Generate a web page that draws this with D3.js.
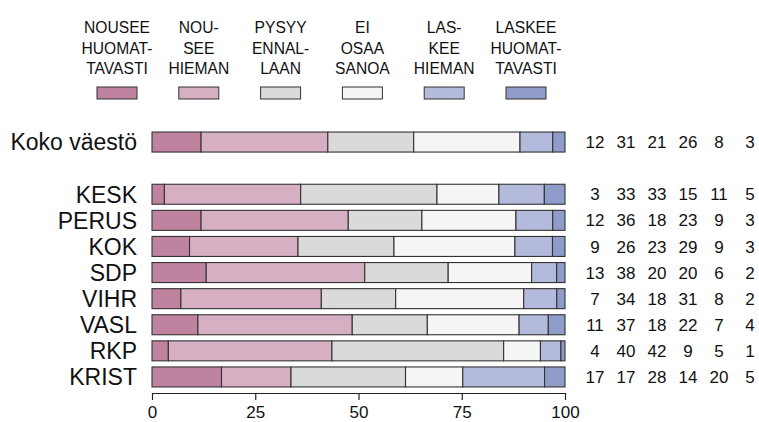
<!DOCTYPE html>
<html>
<head>
<meta charset="utf-8">
<script src="https://cdn.jsdelivr.net/npm/d3@7"></script>
<style>
  body { margin: 0; background: #fff; }
  text { font-family: Arial, "Liberation Sans", sans-serif; fill: #111; }
</style>
</head>
<body>
<div id="chart"></div>
<script>
const width = 759;
const height = 422;

// categories (rows) and answer options (series)
const rows = ["Koko väestö", "KESK", "PERUS", "KOK", "SDP", "VIHR", "VASL", "RKP", "KRIST"];
const seriesLabels = [
  ["NOUSEE", "HUOMAT-", "TAVASTI"],
  ["NOU-", "SEE", "HIEMAN"],
  ["PYSYY", "ENNAL-", "LAAN"],
  ["EI", "OSAA", "SANOA"],
  ["LAS-", "KEE", "HIEMAN"],
  ["LASKEE", "HUOMAT-", "TAVASTI"]
];
const colors = ["#c0839f", "#d6afc3", "#dadada", "#f5f5f5", "#b4badb", "#8f9bc8"];

// percentages per row, in series order
const values = [
  [12, 31, 21, 26, 8, 3],
  [3, 33, 33, 15, 11, 5],
  [12, 36, 18, 23, 9, 3],
  [9, 26, 23, 29, 9, 3],
  [13, 38, 20, 20, 6, 2],
  [7, 34, 18, 31, 8, 2],
  [11, 37, 18, 22, 7, 4],
  [4, 40, 42, 9, 5, 1],
  [17, 17, 28, 14, 20, 5]
];
const xTicks = [0, 25, 50, 75, 100];

const svg = d3.select("#chart")
  .append("svg")
    .attr("width", width)
    .attr("height", height);

const x = d3.scaleLinear()
  .domain([0, 100])
  .range([152, 565]);

// blank row between total and parties
const yDomain = [rows[0], "_gap", ...rows.slice(1)];
const y = d3.scaleBand()
  .domain(yDomain)
  .range([129, 390])
  .paddingInner(0.234)
  .paddingOuter(0.117);

const legendX = d3.scalePoint()
  .domain(d3.range(seriesLabels.length))
  .range([117, 526]);

const numX = d3.scalePoint()
  .domain(d3.range(seriesLabels.length))
  .range([595, 750]);

// legend
const legend = svg.append("g")
  .selectAll("g")
  .data(seriesLabels)
  .join("g")
    .attr("transform", (d, i) => `translate(${legendX(i)},0)`);

legend.append("g")
    .attr("transform", "scale(0.92,1)")
  .selectAll("text")
  .data(d => d)
  .join("text")
    .attr("text-anchor", "middle")
    .attr("y", (d, i) => 33 + i * 20.6)
    .attr("font-size", 17)
    .text(d => d);

legend.append("rect")
    .attr("x", -20)
    .attr("y", 87)
    .attr("width", 40)
    .attr("height", 12)
    .attr("fill", (d, i) => colors[i])
    .attr("stroke", "#333")
    .attr("stroke-width", 1);

// stacked bars
const rowData = rows.map((name, r) => {
  const total = d3.sum(values[r]);
  let acc = 0;
  const segs = values[r].map((v, i) => {
    const s = { i, x0: acc / total * 100, x1: (acc + v) / total * 100 };
    acc += v;
    return s;
  });
  return { name, vals: values[r], segs };
});

const rowG = svg.append("g")
  .selectAll("g")
  .data(rowData)
  .join("g")
    .attr("transform", d => `translate(0,${y(d.name)})`);

rowG.selectAll("rect")
  .data(d => d.segs)
  .join("rect")
    .attr("x", d => x(d.x0))
    .attr("width", d => x(d.x1) - x(d.x0))
    .attr("height", y.bandwidth())
    .attr("fill", d => colors[d.i])
    .attr("stroke", "#333")
    .attr("stroke-width", 1.1);

rowG.append("text")
    .attr("x", 137)
    .attr("y", y.bandwidth() / 2)
    .attr("dy", "0.36em")
    .attr("text-anchor", "end")
    .attr("font-size", 23)
    .text(d => d.name);

rowG.selectAll("text.num")
  .data(d => d.vals)
  .join("text")
    .attr("class", "num")
    .attr("x", (d, i) => numX(i))
    .attr("y", y.bandwidth() / 2)
    .attr("dy", "0.36em")
    .attr("text-anchor", "middle")
    .attr("font-size", 17)
    .text(d => d);

// x axis
const axis = svg.append("g")
    .attr("transform", "translate(0,393)")
    .call(d3.axisBottom(x)
      .tickValues(xTicks)
      .tickSize(7)
      .tickSizeOuter(0)
      .tickPadding(6));

axis.select(".domain").attr("stroke", "#222").attr("stroke-width", 1.2);
axis.selectAll(".tick line").attr("stroke", "#222").attr("stroke-width", 1.2);
axis.selectAll(".tick text")
    .attr("font-size", 17)
    .attr("font-family", "Arial, 'Liberation Sans', sans-serif")
    .attr("fill", "#111");
</script>
</body>
</html>
